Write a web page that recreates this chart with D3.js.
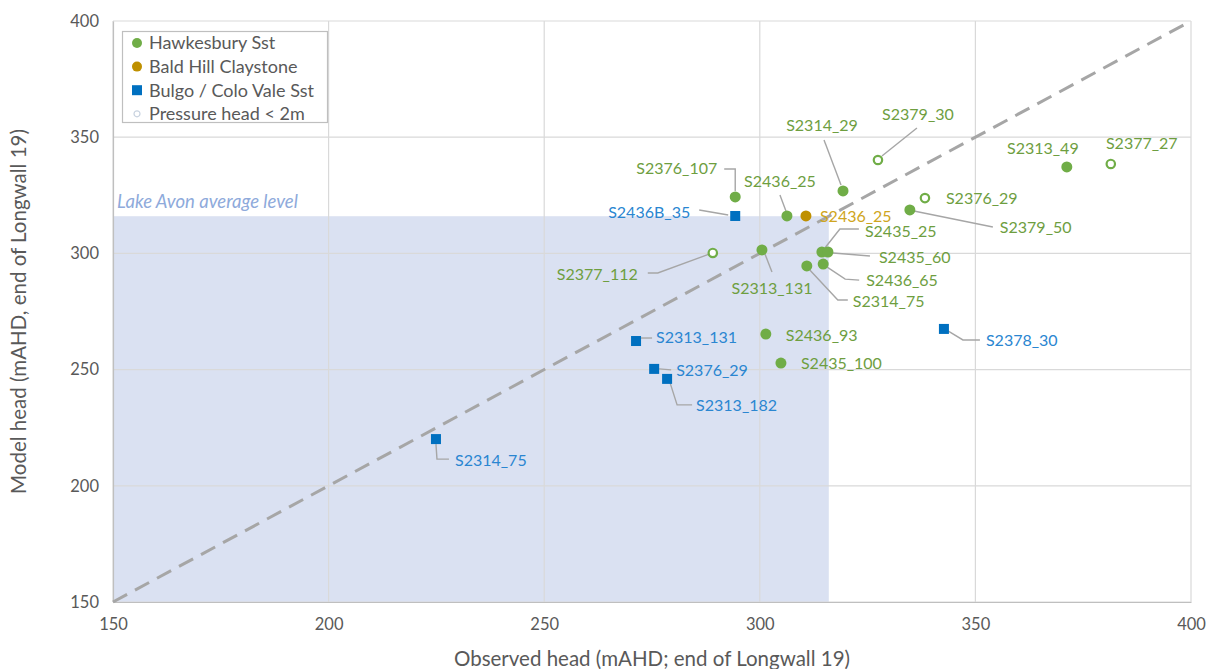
<!DOCTYPE html>
<html>
<head>
<meta charset="utf-8">
<script src="https://cdn.jsdelivr.net/npm/d3@7"></script>
<style>
  html, body { margin: 0; padding: 0; background: #fff; }
  svg { display: block; font-family: Lato, "Open Sans", sans-serif; }
</style>
</head>
<body>
<svg id="chart" width="1214" height="669"></svg>
<script>
// Observed vs modelled groundwater head, end of Longwall 19 (mAHD)
const hawkesbury = [
  { id: "S2376_107", obs: 294.3, model: 324.3 },
  { id: "S2436_25",  obs: 306.3, model: 316.1 },
  { id: "S2314_29",  obs: 319.3, model: 326.9 },
  { id: "S2313_49",  obs: 371.2, model: 337.2 },
  { id: "S2379_50",  obs: 334.8, model: 318.7 },
  { id: "S2313_131", obs: 300.5, model: 301.5 },
  { id: "S2435_25",  obs: 314.4, model: 300.6 },
  { id: "S2435_60",  obs: 315.8, model: 300.6 },
  { id: "S2436_65",  obs: 314.7, model: 295.4 },
  { id: "S2314_75",  obs: 310.9, model: 294.6 },
  { id: "S2436_93",  obs: 301.4, model: 265.3 },
  { id: "S2435_100", obs: 304.9, model: 252.8 }
];
const baldHill = [
  { id: "S2436_25", obs: 310.7, model: 316.1 }
];
const bulgo = [
  { id: "S2436B_35", obs: 294.3, model: 316.1 },
  { id: "S2313_131", obs: 271.3, model: 262.3 },
  { id: "S2376_29",  obs: 275.5, model: 250.3 },
  { id: "S2313_182", obs: 278.5, model: 246.0 },
  { id: "S2314_75",  obs: 224.9, model: 220.1 },
  { id: "S2378_30",  obs: 342.7, model: 267.5 }
];
const lowPressure = [
  { id: "S2379_30",  obs: 327.4, model: 340.2 },
  { id: "S2377_27",  obs: 381.4, model: 338.5 },
  { id: "S2376_29",  obs: 338.3, model: 323.8 },
  { id: "S2377_112", obs: 289.1, model: 300.2 }
];
const lakeAvonLevel = 316;
const axisTicks = [150, 200, 250, 300, 350, 400];
const legendLabels = ["Hawkesbury Sst", "Bald Hill Claystone", "Bulgo / Colo Vale Sst", "Pressure head < 2m"];

// label placement: text offset from the marker (px) and leader-line vertices
const labelLayout = {
  "hawk:S2376_107": { dx: -18, dy: -29, anchor: "end",    leader: [[0, -6], [0, -28], [-11, -28]] },
  "hawk:S2436_25":  { dx: -7,  dy: -35, anchor: "middle", leader: [[-7, -21], [-1, -5]] },
  "hawk:S2314_29":  { dx: -21, dy: -65, anchor: "middle", leader: [[-19, -51], [-2, -6]] },
  "hawk:S2313_49":  { dx: -24, dy: -19, anchor: "middle" },
  "hawk:S2379_50":  { dx: 90,  dy: 17,  anchor: "start",  leader: [[4, 1], [83, 17]] },
  "hawk:S2313_131": { dx: 10,  dy: 38,  anchor: "middle", leader: [[3, 4], [10, 22]] },
  "hawk:S2435_25":  { dx: 43,  dy: -21, anchor: "start",  leader: [[3, -4], [18, -23], [37, -23]] },
  "hawk:S2435_60":  { dx: 51,  dy: 5,   anchor: "start",  leader: [[5, 1], [42, 4]] },
  "hawk:S2436_65":  { dx: 43,  dy: 16,  anchor: "start",  leader: [[4, 3], [22, 15], [36, 16]] },
  "hawk:S2314_75":  { dx: 46,  dy: 35,  anchor: "start",  leader: [[3, 4], [31, 34], [41, 34]] },
  "hawk:S2436_93":  { dx: 20,  dy: 1,   anchor: "start" },
  "hawk:S2435_100": { dx: 20,  dy: 0,   anchor: "start" },
  "bald:S2436_25":  { dx: 14,  dy: 0,   anchor: "start" },
  "bulgo:S2436B_35": { dx: -45, dy: -4, anchor: "end",   leader: [[-7, -1], [-36, -6]] },
  "bulgo:S2313_131": { dx: 20, dy: -4,  anchor: "start", leader: [[5, -3], [16, -3]] },
  "bulgo:S2376_29":  { dx: 22, dy: 1,   anchor: "start", leader: [[5, 0], [17, 1]] },
  "bulgo:S2313_182": { dx: 29, dy: 27,  anchor: "start", leader: [[3, 4], [10, 26], [25, 26]] },
  "bulgo:S2314_75":  { dx: 19, dy: 21,  anchor: "start", leader: [[0, 5], [1, 20], [13, 20]] },
  "bulgo:S2378_30":  { dx: 42, dy: 11,  anchor: "start", leader: [[4, 2], [19, 11], [36, 11]] },
  "low:S2379_30":   { dx: 40,  dy: -46, anchor: "middle", leader: [[4, -4], [39, -32]] },
  "low:S2377_27":   { dx: 31,  dy: -21, anchor: "middle" },
  "low:S2376_29":   { dx: 21,  dy: 0,   anchor: "start" },
  "low:S2377_112":  { dx: -75, dy: 21,  anchor: "end",    leader: [[-3, 1], [-55, 20], [-65, 20]] }
};

const colors = {
  green: "#70ad47", greenText: "#6e9e3f",
  orange: "#bf9000", orangeText: "#cfa520",
  blue: "#0070c0", blueText: "#2a86d1",
  grid: "#d9d9d9", axisText: "#595959", shade: "#dae1f2", leader: "#a6a6a6"
};

const svg = d3.select("#chart");
const margin = { left: 113, right: 23, top: 21, bottom: 67 };
const W = 1214, H = 669;

const x = d3.scaleLinear().domain([150, 400]).range([margin.left, W - margin.right]);
const y = d3.scaleLinear().domain([150, 400]).range([H - margin.bottom, margin.top]);

svg.append("rect").attr("width", W).attr("height", H).attr("fill", "#fff");

// Lake Avon shaded region
svg.append("rect")
  .attr("x", x(150)).attr("y", y(lakeAvonLevel))
  .attr("width", x(lakeAvonLevel) - x(150))
  .attr("height", y(150) - y(lakeAvonLevel))
  .attr("fill", colors.shade);

svg.append("text")
  .attr("x", x(150) + 4).attr("y", y(lakeAvonLevel) - 8)
  .attr("font-size", 18.5).attr("font-style", "italic")
  .attr("fill", "#8eaadb")
  .text("Lake Avon average level");

// gridlines
const grid = svg.append("g");
grid.selectAll(".gx").data(axisTicks).join("line")
  .attr("x1", d => x(d)).attr("x2", d => x(d))
  .attr("y1", y(150)).attr("y2", y(400))
  .attr("stroke", colors.grid).attr("stroke-width", 1.2);
grid.selectAll(".gy").data(axisTicks).join("line")
  .attr("x1", x(150)).attr("x2", x(400))
  .attr("y1", d => y(d)).attr("y2", d => y(d))
  .attr("stroke", colors.grid).attr("stroke-width", 1.2);

// axes
const xAxis = svg.append("g").attr("transform", `translate(0,${y(150)})`)
  .call(d3.axisBottom(x).tickValues(axisTicks).tickSize(0).tickPadding(16));
const yAxis = svg.append("g").attr("transform", `translate(${x(150)},0)`)
  .call(d3.axisLeft(y).tickValues(axisTicks).tickSize(0).tickPadding(14));
[xAxis, yAxis].forEach(g => {
  g.select(".domain").attr("stroke", "#bfbfbf").attr("stroke-width", 1.2);
  g.selectAll("text").attr("font-size", 16.5).attr("fill", colors.axisText)
    .attr("font-family", "Lato, sans-serif");
});

svg.append("text")
  .attr("x", (x(150) + x(400)) / 2).attr("y", 666)
  .attr("text-anchor", "middle").attr("font-size", 20.5).attr("fill", colors.axisText)
  .text("Observed head (mAHD; end of Longwall 19)");
svg.append("text")
  .attr("transform", `translate(26,${(y(150) + y(400)) / 2}) rotate(-90)`)
  .attr("text-anchor", "middle").attr("font-size", 20.5).attr("fill", colors.axisText)
  .text("Model head (mAHD, end of Longwall 19)");

// 1:1 line
svg.append("line")
  .attr("x1", x(150)).attr("y1", y(150)).attr("x2", x(400)).attr("y2", y(400))
  .attr("stroke", "#a6a6a6").attr("stroke-width", 3).attr("stroke-dasharray", "16,9");

// leader lines and labels
const series = [
  { key: "hawk",  data: hawkesbury,  text: colors.greenText },
  { key: "bald",  data: baldHill,    text: colors.orangeText },
  { key: "bulgo", data: bulgo,       text: colors.blueText },
  { key: "low",   data: lowPressure, text: colors.greenText }
];
const labels = svg.append("g");
const line = d3.line();
series.forEach(s => {
  s.data.forEach(d => {
    const lay = labelLayout[s.key + ":" + d.id];
    const px = x(d.obs), py = y(d.model);
    if (lay.leader) {
      labels.append("path")
        .attr("d", line(lay.leader.map(([a, b]) => [px + a, py + b])))
        .attr("fill", "none").attr("stroke", colors.leader).attr("stroke-width", 1.4);
    }
    labels.append("text")
      .attr("x", px + lay.dx).attr("y", py + lay.dy)
      .attr("dy", "0.35em").attr("text-anchor", lay.anchor)
      .attr("font-size", 16).attr("fill", s.text)
      .text(d.id);
  });
});

// markers
const marks = svg.append("g");
marks.selectAll(".hawk").data(hawkesbury).join("circle")
  .attr("cx", d => x(d.obs)).attr("cy", d => y(d.model)).attr("r", 5.5)
  .attr("fill", colors.green);
marks.selectAll(".bald").data(baldHill).join("circle")
  .attr("cx", d => x(d.obs)).attr("cy", d => y(d.model)).attr("r", 5.5)
  .attr("fill", colors.orange);
marks.selectAll(".bulgo").data(bulgo).join("rect")
  .attr("x", d => x(d.obs) - 5).attr("y", d => y(d.model) - 5)
  .attr("width", 10).attr("height", 10).attr("fill", colors.blue);
marks.selectAll(".low").data(lowPressure).join("circle")
  .attr("cx", d => x(d.obs)).attr("cy", d => y(d.model)).attr("r", 4.2)
  .attr("fill", "#fff").attr("stroke", colors.green).attr("stroke-width", 2.2);

// legend
const legend = svg.append("g");
legend.append("rect").attr("x", 122.5).attr("y", 31.5).attr("width", 205).attr("height", 91)
  .attr("fill", "#fff").attr("stroke", "#bfbfbf").attr("stroke-width", 1.2);
const legendMarks = [
  g => g.append("circle").attr("r", 5).attr("fill", colors.green),
  g => g.append("circle").attr("r", 5).attr("fill", colors.orange),
  g => g.append("rect").attr("x", -5).attr("y", -5).attr("width", 10).attr("height", 10).attr("fill", colors.blue),
  g => g.append("circle").attr("r", 3).attr("fill", "#fff").attr("stroke", "#c9d3e0").attr("stroke-width", 1.2)
];
legendLabels.forEach((lbl, i) => {
  const row = legend.append("g").attr("transform", `translate(137,${43 + i * 23.6})`);
  legendMarks[i](row);
  row.append("text").attr("x", 12).attr("dy", "0.35em")
    .attr("font-size", 18).attr("fill", colors.axisText).text(lbl);
});
</script>
</body>
</html>
